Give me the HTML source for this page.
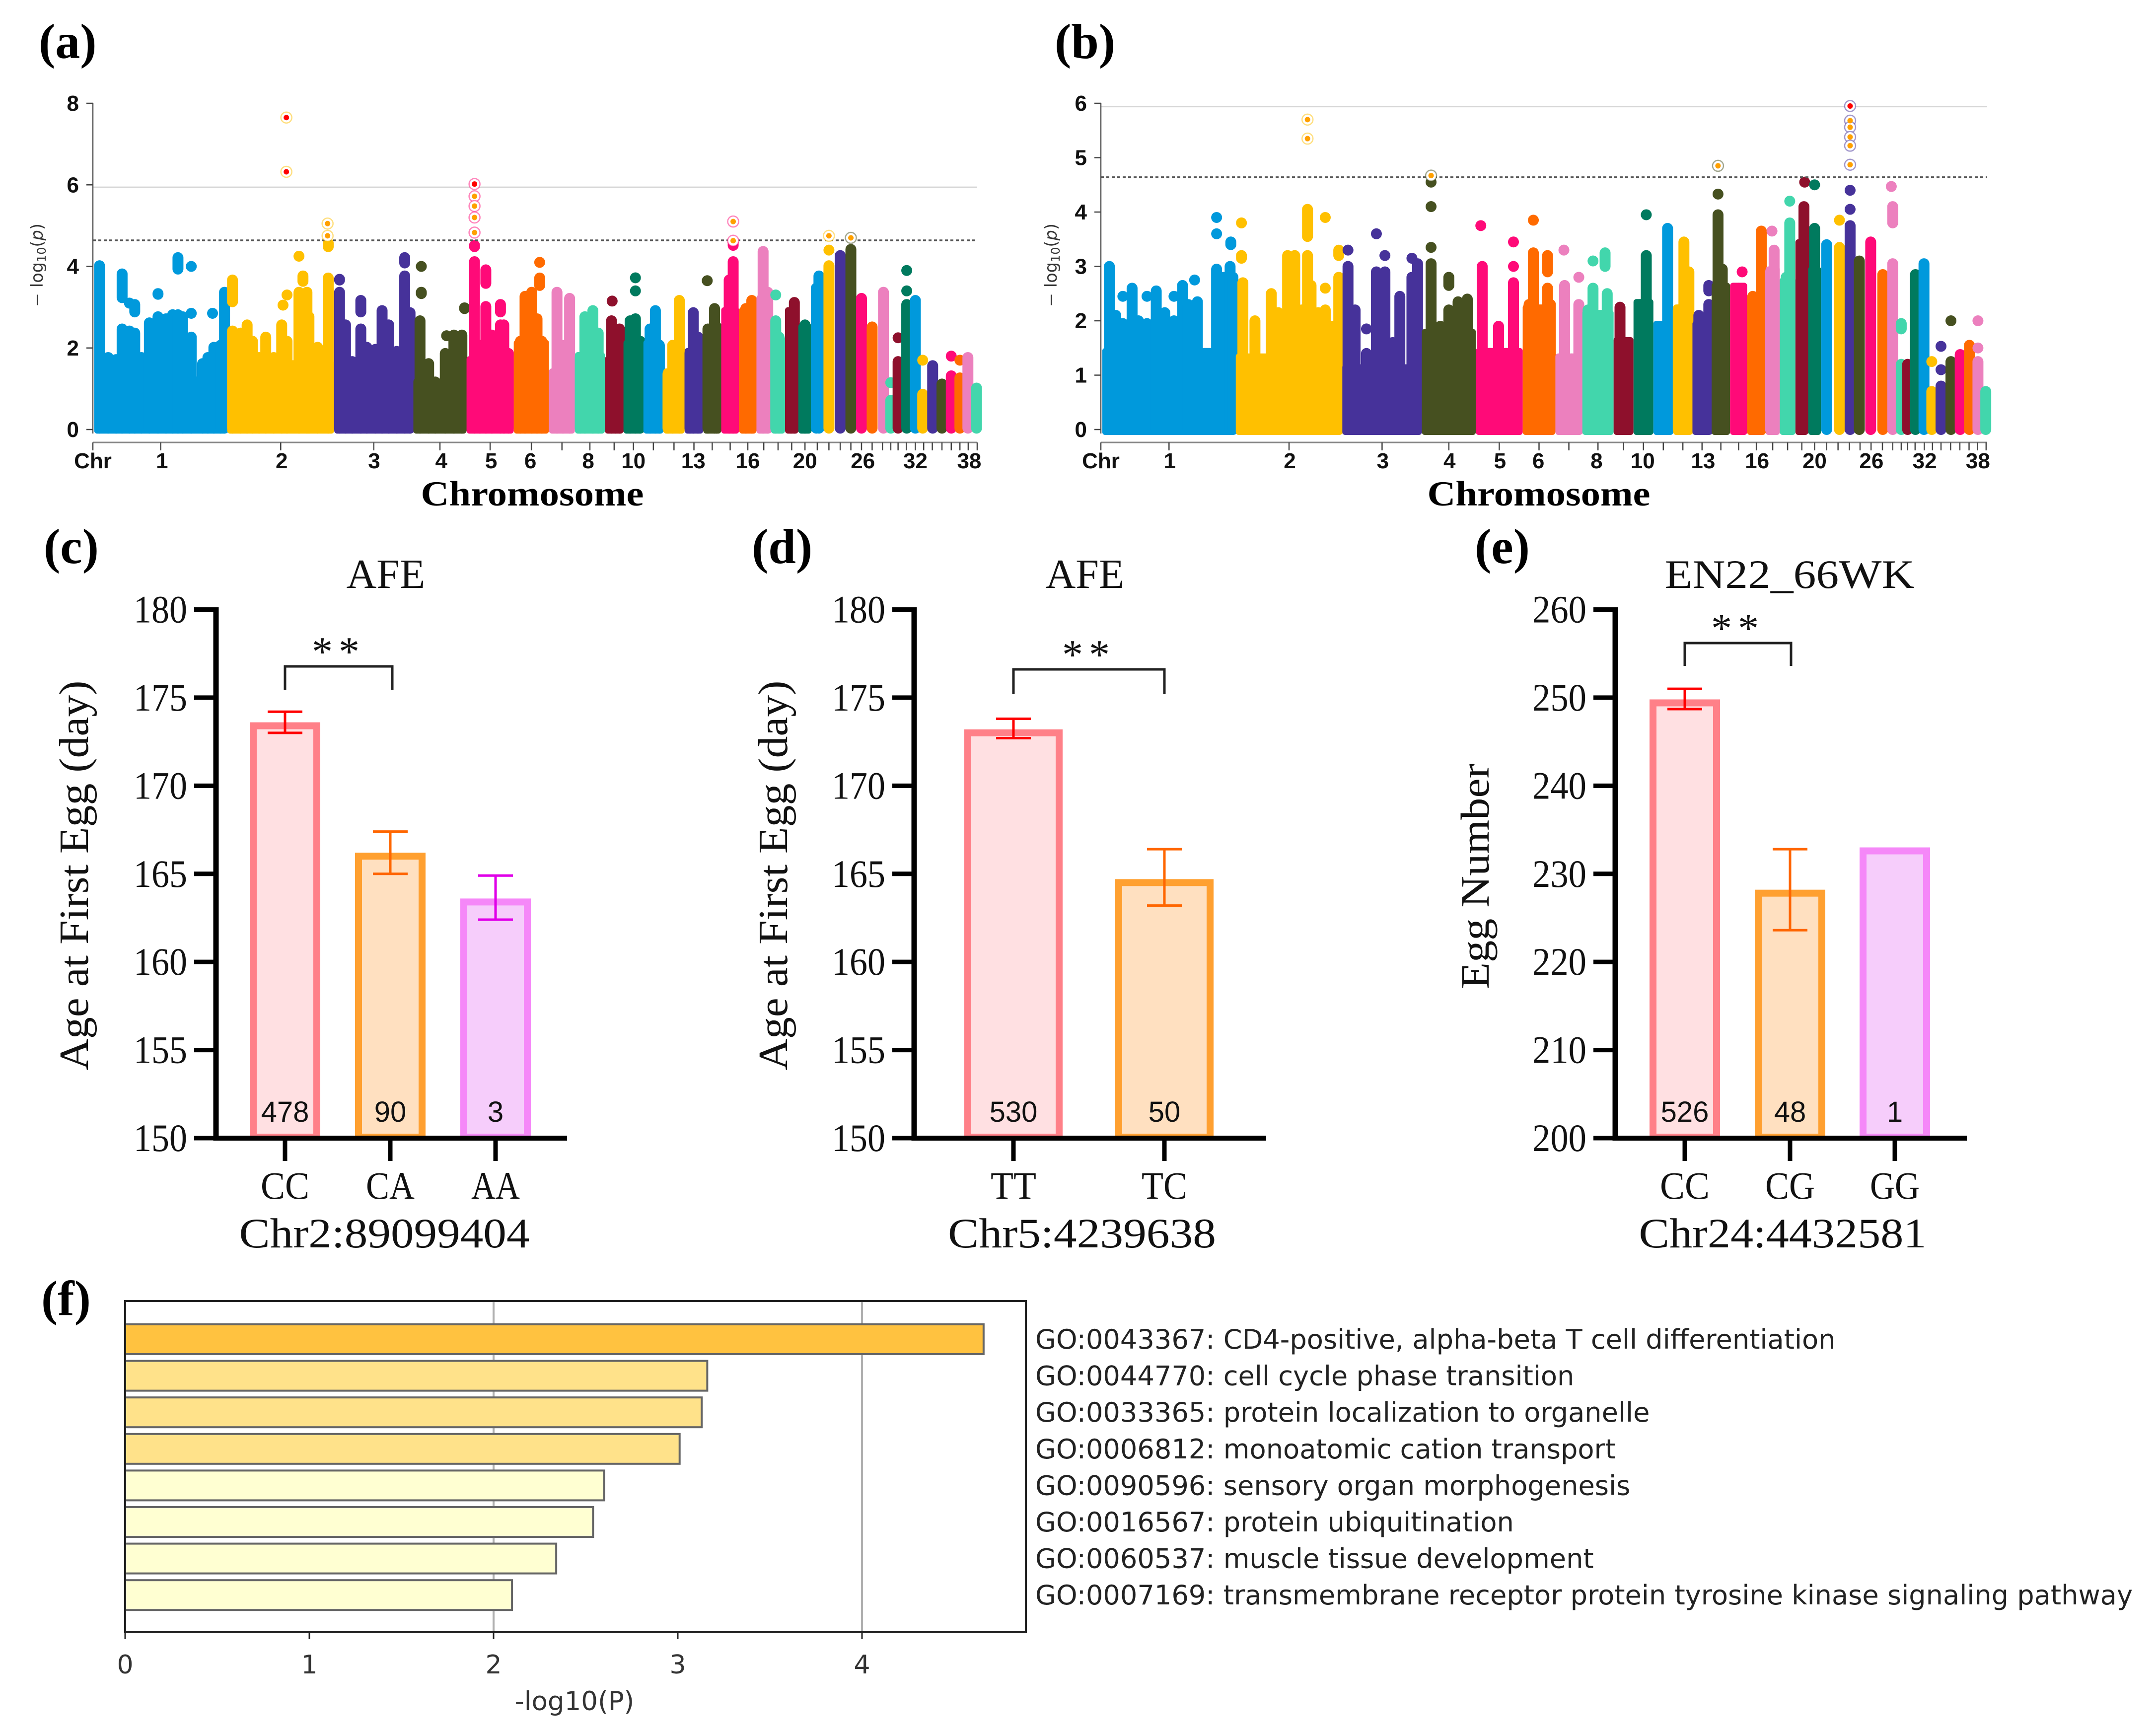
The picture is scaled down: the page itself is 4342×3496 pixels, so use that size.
<!DOCTYPE html>
<html lang="en">
<head>
<meta charset="utf-8">
<title>GWAS Manhattan plots, genotype effects and GO enrichment</title>
<style>
html,body{margin:0;padding:0;background:#fff;}
svg{display:block;}
.serif{font-family:"Liberation Serif",serif;}
.sans{font-family:"Liberation Sans",sans-serif;}
.dejavu{font-family:"DejaVu Sans",sans-serif;}
</style>
</head>
<body>
<svg id="figure" xmlns="http://www.w3.org/2000/svg" width="4342" height="3496" viewBox="0 0 4342 3496">
  <rect width="4342" height="3496" fill="#fff"/>

  <g id="panelA"></g>
  <g id="panelB"></g>
  <g id="panelC"></g>
  <g id="panelD"></g>
  <g id="panelE"></g>
  <g id="panelF"></g>

  <g class="serif" font-weight="bold" font-size="100" fill="#000">
    <text x="78" y="117">(a)</text>
    <text x="2124" y="117">(b)</text>
    <text x="88" y="1134">(c)</text>
    <text x="1514" y="1134">(d)</text>
    <text x="2970" y="1134">(e)</text>
    <text x="83" y="2648">(f)</text>
  </g>

  <g class="serif" font-weight="bold" font-size="71" fill="#000" text-anchor="middle">
    <text x="1072" y="1018" textLength="449" lengthAdjust="spacingAndGlyphs">Chromosome</text>
    <text x="3099" y="1018" textLength="449" lengthAdjust="spacingAndGlyphs">Chromosome</text>
  </g>
  <g class="dejavu" font-size="34" fill="#333" text-anchor="middle">
    <text transform="translate(86,534) rotate(-90)" textLength="168" lengthAdjust="spacingAndGlyphs">− log<tspan font-size="24" dy="6">10</tspan><tspan dy="-6">(</tspan><tspan font-style="italic">p</tspan>)</text>
    <text transform="translate(2128,534) rotate(-90)" textLength="168" lengthAdjust="spacingAndGlyphs">− log<tspan font-size="24" dy="6">10</tspan><tspan dy="-6">(</tspan><tspan font-style="italic">p</tspan>)</text>
  </g>

  <g class="serif" fill="#111" text-anchor="middle">
    <text x="777" y="1184" font-size="84">AFE</text>
    <text x="2185" y="1184" font-size="84">AFE</text>
    <text x="3604" y="1184" font-size="82" textLength="503" lengthAdjust="spacingAndGlyphs">EN22_66WK</text>
    <text transform="translate(177,1763) rotate(-90)" font-size="84" textLength="785" lengthAdjust="spacingAndGlyphs">Age at First Egg (day)</text>
    <text transform="translate(1585,1763) rotate(-90)" font-size="84" textLength="785" lengthAdjust="spacingAndGlyphs">Age at First Egg (day)</text>
    <text transform="translate(2998,1765) rotate(-90)" font-size="82" textLength="454" lengthAdjust="spacingAndGlyphs">Egg Number</text>
    <text x="774" y="2512" font-size="85" textLength="585" lengthAdjust="spacingAndGlyphs">Chr2:89099404</text>
    <text x="2179" y="2512" font-size="85" textLength="540" lengthAdjust="spacingAndGlyphs">Chr5:4239638</text>
    <text x="3590" y="2512" font-size="85" textLength="579" lengthAdjust="spacingAndGlyphs">Chr24:4432581</text>
  </g>
  <text class="dejavu" x="1157" y="3444" font-size="53" fill="#333" text-anchor="middle">-log10(P)</text>

<script>
// ---------- Panel (a) data: genome position (plot units), -log10(p) ----------
const chrBoundsA = [142,342,503,622,702,773,826,865,910,938,968,998,1030,1058,1085,1112,1138,1160,1181,1201,1221,1238,1256,1272,1288,1304,1320,1335,1345,1357,1370,1384,1395,1410,1424,1438,1450,1463,1477];
const chrFloorsA = [1.3,1.7,1.3,1.25,1.8,2.2,1.5,1.9,1.8,2.2,2.2,1.5,2.0,2.4,3.0,3.0,3.3,2.3,3.0,2.6,0,0,0,0,0,0,0,0,0,0,0,0,0,0,0,0,0,0];
const stemsA = [[150,4.15],[163,1.9],[175,1.85],[184,2.6],[195,2.55],[203,2.5],[213,1.9],[225,2.75],[238,2.9],[250,2.85],[260,2.95],[268,2.95],[275,2.9],[288,2.4],[305,1.75],[313,1.9],[322,2.15],[332,2.2],[338,3.5],
[350,2.55],[362,2.5],[372,2.7],[380,2.3],[390,1.9],[400,2.4],[412,1.9],[424,2.7],[432,2.3],[450,3.5],[462,3.5],[465,2.9],[478,2.15],[494,3.85],
[511,3.5],[520,2.7],[530,1.8],[543,2.6],[552,2.15],[565,2.1],[575,3.05],[585,2.7],[597,2.05],[609,3.9],[617,3.0],
[632,2.8],[645,1.75],[655,1.3],[670,2.0],[683,2.45],[695,2.45],
[714,4.25],[722,2.2],[731,3.15],[740,2.45],[753,2.7],[758,2.7],[765,2.0],
[783,2.3],[790,3.4],[800,3.5],[808,2.85],[815,2.3],
[838,3.5],[847,2.2],[857,3.35],
[873,1.9],[880,2.9],[892,3.05],[900,2.5],
[920,2.8],[926,1.8],[932,2.6],
[948,2.8],[956,2.85],[963,2.3],
[978,2.6],[986,3.05],[992,2.2],
[1005,1.5],[1012,2.2],[1022,3.3],
[1038,2.0],[1043,3.0],[1050,2.4],
[1065,2.6],[1075,3.1],[1078,2.65],
[1097,3.8],[1103,4.25],
[1122,3.1],[1131,3.3],
[1148,4.5],[1155,3.5],
[1167,2.8],[1172,2.4],
[1190,2.6],[1195,3.25],
[1211,2.7],[1228,3.6],[1232,3.9],[1247,4.15],[1264,4.4],[1280,4.55],[1296,3.35],[1312,2.65],[1329,3.5],[1340,0.85],[1351,1.8],[1364,3.2],[1377,3.3],[1388,1.0],[1403,1.7],[1417,1.25],[1431,1.45],[1444,1.4],[1456,1.9],[1469,1.15]];
const floatsA = [[184,3.1,3.95],[203,2.75,3.2],[268,3.8,4.35],[238,3.2,3.45],[350,3.0,3.8],[456,3.5,3.9],[494,4.35,4.7],[511,3.55,3.8],[543,2.75,3.3],[609,3.95,4.35],[634,3.2,3.5],[699,2.85,3.1],[714,4.35,4.65],[731,3.45,4.05],[753,2.75,3.2],[812,3.4,3.85],[1103,4.45,4.65]];
const dotsA = [[195,3.1],[288,4.0],[288,2.85],[320,2.85],[426,3.05],[432,3.3],[450,4.25],[634,4.0],[672,2.3],[812,4.1],[921,3.15],[956,3.4],[956,3.72],[1064,3.65],[1167,3.3],[1247,4.4],[1340,1.15],[1351,2.25],[1364,3.4],[1364,3.9],[1388,1.7],[1431,1.8],[1444,1.7]];
const hitsA = [[431,7.65,'top'],[431,6.32,'top'],[493,5.05,'sig'],[493,4.75,'sig'],[714,6.02,'top'],[714,5.72,'sig'],[714,5.48,'sig'],[714,5.2,'sig'],[714,4.83,'sig'],[1103,5.1,'sig'],[1103,4.63,'sig'],[1247,4.75,'sig'],[1280,4.7,'sig']];
const tickLabelsA = ['Chr','1','2','3','4','5','6','8','10','13','16','20','26','32','38'];
const tickLabelPosA = [140,244,424,563,664,739,798,885,953,1043,1125,1211,1298,1377,1458];
const yTicksA = [0,2,4,6,8];

// ---------- Panel (b) data ----------
const chrBoundsB = [84,272,422,534,610,676,722,760,804,832,860,888,915,942,968,992,1018,1038,1060,1078,1096,1112,1128,1144,1158,1175,1190,1204,1214,1222,1235,1248,1258,1272,1285,1298,1311,1322,1335];
const chrFloorsB = [1.5,1.4,1.2,1.85,1.5,2.3,1.4,2.2,1.7,2.4,2.0,2.3,2.0,2.7,2.7,2.5,3.0,2.8,3.5,3.0,0,0,0,0,0,0,0,0,0,0,0,0,0,0,0,0,0,0];
const stemsB = [[94,3.1],[103,2.2],[113,2.05],[126,2.7],[135,2.1],[147,2.05],[160,2.65],[172,2.25],[185,2.1],[197,2.75],[205,2.4],[218,2.45],[235,1.3],[245,3.05],[255,2.9],[264,3.1],[268,2.9],
[282,2.8],[299,2.1],[322,2.6],[332,2.25],[345,3.3],[355,3.3],[365,2.3],[373,3.3],[378,2.75],[388,2.25],[398,2.3],[408,2.0],[417,2.9],
[430,3.1],[440,2.3],[456,1.5],[470,3.0],[482,3.0],[493,1.7],[503,2.55],[520,2.9],[528,3.15],
[547,3.15],[560,2.0],[572,2.3],[585,2.45],[598,2.5],
[619,3.1],[630,1.5],[642,2.0],[663,2.8],
[685,2.4],[691,3.35],[711,2.7],[715,2.4],
[735,2.75],[745,1.4],[755,2.4],
[768,2.3],[775,2.7],[795,2.6],
[813,2.35],[822,1.7],
[842,2.4],[850,3.3],
[870,2.0],[880,3.8],
[895,2.3],[903,3.55],[910,3.0],
[924,2.2],[938,2.4],
[951,4.05],[957,3.05],
[980,2.7],
[1000,2.55],[1012,3.75],
[1025,3.0],[1030,3.4],
[1047,2.9],[1052,3.9],
[1072,4.2],[1087,3.8],[1104,3.5],[1122,3.45],[1137,3.85],[1150,3.2],[1166,3.55],[1183,2.95],[1197,3.15],[1209,1.3],[1218,1.3],[1229,2.95],[1241,3.15],[1252,0.8],[1265,0.9],[1279,1.35],[1292,1.48],[1305,1.65],[1317,1.35],[1328,0.8]];
const floatsB = [[265,3.3,3.55],[280,3.05,3.3],[938,2.45,2.75],[711,2.8,3.3],[1197,3.7,4.2],[1209,1.75,2.05],[792,2.9,3.35],[572,2.55,2.9],[373,3.45,4.15],[417,3.1,3.4]];
const dotsB = [[113,2.45],[147,2.45],[185,2.45],[214,2.75],[245,3.9],[245,3.6],[280,3.8],[398,3.9],[398,2.6],[430,3.3],[456,1.85],[470,3.6],[482,3.2],[520,3.15],[547,3.35],[547,4.1],[547,4.55],[617,3.75],[663,3.0],[663,3.45],[691,3.85],[734,3.3],[755,2.8],[775,3.1],[850,3.95],[985,2.9],[1027,3.65],[1052,4.2],[1073,4.55],[1087,4.5],[1122,3.85],[1137,4.05],[1137,4.4],[951,4.33],[1195,4.47],[1252,1.25],[1265,1.1],[1265,1.53],[1279,2.0],[1317,1.5],[1317,2.0]];
const hitsB = [[373,5.7,'sig'],[373,5.35,'sig'],[547,4.67,'sig'],[951,4.85,'sig'],[1137,5.95,'top'],[1137,5.68,'sig'],[1137,5.56,'sig'],[1137,5.38,'sig'],[1137,5.22,'sig'],[1137,4.87,'sig']];
const tickLabelsB = ['Chr','1','2','3','4','5','6','8','10','13','16','20','26','32','38'];
const tickLabelPosB = [82,179,348,479,573,644,698,780,845,930,1006,1087,1167,1242,1317];
const yTicksB = [0,1,2,3,4,5,6];

// Chromosome palette (cycles every 10)
const chrPalette = ['#0099DC','#FFC000','#46329A','#465020','#FF0A78','#FF6A00','#EC80BE','#42D6AC','#8E102C','#007A5E'];

// ---------- Panel (c) ----------
const genotypesC = ['CC','CA','AA'];
const meansC = [173.6,166.2,163.6];
const errHighC = [174.2,167.4,164.9];
const errLowC = [173.0,165.0,162.4];
const countsC = ['478','90','3'];
const yTicksC = [150,155,160,165,170,175,180];

// ---------- Panel (d) ----------
const genotypesD = ['TT','TC'];
const meansD = [173.2,164.7];
const errHighD = [173.8,166.4];
const errLowD = [172.7,163.2];
const countsD = ['530','50'];
const yTicksD = [150,155,160,165,170,175,180];

// ---------- Panel (e) ----------
const genotypesE = ['CC','CG','GG'];
const meansE = [249.8,228.2,233];
const errHighE = [251,232.8,null];
const errLowE = [248.7,223.6,null];
const countsE = ['526','48','1'];
const yTicksE = [200,210,220,230,240,250,260];

// ---------- Panel (f) ----------
const goTerms = ['GO:0043367: CD4-positive, alpha-beta T cell differentiation','GO:0044770: cell cycle phase transition','GO:0033365: protein localization to organelle','GO:0006812: monoatomic cation transport','GO:0090596: sensory organ morphogenesis','GO:0016567: protein ubiquitination','GO:0060537: muscle tissue development','GO:0007169: transmembrane receptor protein tyrosine kinase signaling pathway'];
const goValues = [4.66,3.16,3.13,3.01,2.60,2.54,2.34,2.10];
const goXTicks = [0,1,2,3,4];
const goGridlines = [2,4];

const NS = 'http://www.w3.org/2000/svg';
function mk(parent, tag, attrs, txt) {
  const el = document.createElementNS(NS, tag);
  for (const k in attrs) el.setAttribute(k, attrs[k]);
  if (txt !== undefined) el.textContent = txt;
  parent.appendChild(el);
  return el;
}

function drawManhattan(root, o) {
  const xs = p => o.left + (p - o.d0) * (o.right - o.left) / (o.d1 - o.d0);
  const ys = v => 865 - v * (865 - 208) / o.ymax;
  const colorOf = i => chrPalette[i % 10];
  const chrOf = p => {
    for (let i = 0; i < o.bounds.length - 1; i++) if (p < o.bounds[i + 1]) return i;
    return o.bounds.length - 2;
  };
  const R = 11;
  const base = ys(-0.1);
  for (let c = 0; c < o.bounds.length - 1; c++) {
    const g = mk(root, 'g', {fill: colorOf(c), stroke: colorOf(c)});
    
    
    if (o.floors[c] > 0) {
      const r = mk(g, 'rect', {x: xs(o.bounds[c]), y: ys(o.floors[c]), width: xs(o.bounds[c + 1]) - xs(o.bounds[c]), height: base - ys(o.floors[c]), stroke: 'none', rx: 6});
      
      
    }
    o.stems.filter(s => chrOf(s[0]) === c).forEach(s => {
      const l = mk(g, 'line', {x1: xs(s[0]), x2: xs(s[0]), y1: ys(s[1]) + R, y2: base - R, 'stroke-width': 2 * R, 'stroke-linecap': 'round'});
      
      
    });
    o.floats.filter(s => chrOf(s[0]) === c).forEach(s => {
      const l = mk(g, 'line', {x1: xs(s[0]), x2: xs(s[0]), y1: ys(s[2]) + R, y2: ys(s[1]) - R, 'stroke-width': 2 * R, 'stroke-linecap': 'round'});
      
      
    });
    o.dots.filter(s => chrOf(s[0]) === c).forEach(s => {
      const d = mk(g, 'circle', {cx: xs(s[0]), cy: ys(s[1]), r: R, stroke: 'none'});
      
      
    });
  }
  // significance lines
  const gl = mk(root, 'line', {x1: o.left, x2: o.right, y1: ys(5.94), y2: ys(5.94), stroke: '#d6d6d6', 'stroke-width': 3});
  
  
  const sl = mk(root, 'line', {x1: o.left, x2: o.right, y1: ys(4.64), y2: ys(4.64), stroke: '#555', 'stroke-width': 3.5, 'stroke-dasharray': '6 5'});
  
  
  // highlighted SNPs: rings first, then dots on top
  o.hits.forEach(h => {
    const col = colorOf(chrOf(h[0]));
    const ring = mk(root, 'circle', {cx: xs(h[0]), cy: ys(h[1]), r: 11, fill: '#fff', stroke: col, 'stroke-width': 2.5, 'stroke-opacity': 0.5});
    
    
  });
  o.hits.forEach(h => {
    const dot = mk(root, 'circle', {cx: xs(h[0]), cy: ys(h[1]), r: 5.5, fill: h[2] === 'top' ? '#FF0000' : '#FFA000'});
    
    
  });
  // y axis
  const ya = mk(root, 'line', {x1: o.left, x2: o.left, y1: 207, y2: 873, stroke: '#555', 'stroke-width': 2.5});
  
  
  o.yTicks.forEach(v => {
    const t = mk(root, 'line', {x1: o.left - 13, x2: o.left, y1: ys(v), y2: ys(v), stroke: '#444', 'stroke-width': 2.5});
    
    
    const l = mk(root, 'text', {x: o.left - 28, y: ys(v) + 15, 'font-size': 44, 'font-weight': 'bold', 'font-family': '"Liberation Sans",sans-serif', 'text-anchor': 'end', fill: '#111'}, String(v));
    
    
  });
  // x axis
  const xa = mk(root, 'line', {x1: o.left, x2: o.right, y1: 891, y2: 891, stroke: '#888', 'stroke-width': 3});
  
  
  const drawTick = p => {
    const t = mk(root, 'line', {x1: xs(p), x2: xs(p), y1: 891, y2: 907, stroke: '#444', 'stroke-width': 2.5});
    
    
  };
  drawTick(o.d0);
  for (let c = 0; c < o.bounds.length - 1; c++) drawTick((o.bounds[c] + o.bounds[c + 1]) / 2);
  o.tickLabels.forEach((s, i) => {
    const l = mk(root, 'text', {x: xs(o.tickLabelPos[i]), y: 943, 'font-size': 44, 'font-weight': 'bold', 'font-family': '"Liberation Sans",sans-serif', 'text-anchor': 'middle', fill: '#111'}, s);
    
    
  });
}

const barStrokes = ['#FF8088','#FFA030','#F588F8'];
const barFills = ['#FFE0E2','#FFE0C0','#F6CDFB'];
const errColors = ['#FF0000','#FF6600','#E000E8'];

function drawBars(root, o) {
  const y0 = 2292, y1 = 1227.5;
  const ymin = o.yTicks[0], ymax = o.yTicks[o.yTicks.length - 1];
  const ys = v => y0 - (v - ymin) * (y0 - y1) / (ymax - ymin);
  const SW = 14;
  o.means.forEach((m, i) => {
    const cx = o.centers[i];
    const b = mk(root, 'rect', {x: cx - o.barW / 2 + SW / 2, y: ys(m) + SW / 2, width: o.barW - SW, height: y0 - 2 - ys(m) - SW / 2, fill: barFills[i], stroke: barStrokes[i], 'stroke-width': SW});
    
    
    const n = mk(root, 'text', {x: cx, y: 2259, 'font-size': 58, 'font-family': '"Liberation Sans",sans-serif', 'text-anchor': 'middle', fill: '#111'}, o.counts[i]);
    
    
    if (o.errHigh[i] !== null) {
      const e = mk(root, 'path', {d: 'M' + (cx - 35) + ' ' + ys(o.errHigh[i]) + 'H' + (cx + 35) + 'M' + cx + ' ' + ys(o.errHigh[i]) + 'V' + ys(o.errLow[i]) + 'M' + (cx - 35) + ' ' + ys(o.errLow[i]) + 'H' + (cx + 35), fill: 'none', stroke: errColors[i], 'stroke-width': 5});
      
      
    }
    const t = mk(root, 'line', {x1: cx, x2: cx, y1: y0, y2: 2338, stroke: '#000', 'stroke-width': 9});
    
    
    const l = mk(root, 'text', {x: cx, y: 2414, 'font-size': 78, 'font-family': '"Liberation Serif",serif', 'text-anchor': 'middle', fill: '#111', textLength: o.catW, lengthAdjust: 'spacingAndGlyphs'}, o.genotypes[i]);
    
    
  });
  const ya = mk(root, 'line', {x1: o.axisX, x2: o.axisX, y1: y1 - 4.5, y2: y0 + 5, stroke: '#000', 'stroke-width': 11});
  
  
  const xa = mk(root, 'line', {x1: o.axisX, x2: o.axisEnd, y1: y0, y2: y0, stroke: '#000', 'stroke-width': 10});
  
  
  o.yTicks.forEach(v => {
    const t = mk(root, 'line', {x1: o.axisX - 44, x2: o.axisX, y1: ys(v), y2: ys(v), stroke: '#000', 'stroke-width': 9});
    
    
    const l = mk(root, 'text', {x: o.axisX - 58, y: ys(v) + 26, 'font-size': 78, 'font-family': '"Liberation Serif",serif', 'text-anchor': 'end', fill: '#111', textLength: o.tickW, lengthAdjust: 'spacingAndGlyphs'}, String(v));
    
    
  });
  const br = mk(root, 'path', {d: 'M' + o.bracket[0] + ' ' + o.bracket[3] + 'V' + o.bracket[2] + 'H' + o.bracket[1] + 'V' + o.bracket[3], fill: 'none', stroke: '#222', 'stroke-width': 5});
  
  
  const st = mk(root, 'text', {x: (o.bracket[0] + o.bracket[1]) / 2, y: o.bracket[2] - 2, 'font-size': 84, 'font-family': '"Liberation Serif",serif', 'text-anchor': 'middle', 'letter-spacing': 12, fill: '#111'}, '**');
  
  
}

function drawGO(root) {
  const L = 252, R = 2066, T = 2620, B = 3287;
  const xs = v => L + v * 371;
  goGridlines.forEach(v => {
    const g = mk(root, 'line', {x1: xs(v), x2: xs(v), y1: T, y2: B, stroke: '#b0b0b0', 'stroke-width': 4});
    
    
  });
  goValues.forEach((v, i) => {
    const cy = 2697 + i * 73.6;
    const fill = v > 4 ? '#FFC240' : v >= 3 ? '#FFE28A' : '#FFFFD2';
    const b = mk(root, 'rect', {x: xs(0), y: cy - 30, width: xs(v) - xs(0), height: 60, fill: fill, stroke: '#666', 'stroke-width': 4});
    
    
    const t = mk(root, 'text', {x: 2085, y: cy + 19, 'font-size': 54.2, 'font-family': '"DejaVu Sans",sans-serif', fill: '#222'}, goTerms[i]);
    
    
  });
  const frame = mk(root, 'rect', {x: L, y: T, width: R - L, height: B - T, fill: 'none', stroke: '#222', 'stroke-width': 4});
  
  
  goXTicks.forEach(v => {
    const t = mk(root, 'line', {x1: xs(v), x2: xs(v), y1: B, y2: B + 14, stroke: '#222', 'stroke-width': 3});
    
    
    const l = mk(root, 'text', {x: xs(v), y: 3370, 'font-size': 52, 'font-family': '"DejaVu Sans",sans-serif', 'text-anchor': 'middle', fill: '#333'}, String(v));
    
    
  });
}

drawManhattan(document.getElementById('panelA'), {left: 187, right: 1968, d0: 140, d1: 1470, ymax: 8, bounds: chrBoundsA, floors: chrFloorsA, stems: stemsA, floats: floatsA, dots: dotsA, hits: hitsA, yTicks: yTicksA, tickLabels: tickLabelsA, tickLabelPos: tickLabelPosA});
drawManhattan(document.getElementById('panelB'), {left: 2217, right: 4002, d0: 82, d1: 1330, ymax: 6, bounds: chrBoundsB, floors: chrFloorsB, stems: stemsB, floats: floatsB, dots: dotsB, hits: hitsB, yTicks: yTicksB, tickLabels: tickLabelsB, tickLabelPos: tickLabelPosB});
drawBars(document.getElementById('panelC'), {genotypes: genotypesC, means: meansC, errHigh: errHighC, errLow: errLowC, counts: countsC, yTicks: yTicksC, centers: [574,786,998], barW: 142, axisX: 435, axisEnd: 1142, tickW: 108, catW: 98, bracket: [574,790,1342,1389]});
drawBars(document.getElementById('panelD'), {genotypes: genotypesD, means: meansD, errHigh: errHighD, errLow: errLowD, counts: countsD, yTicks: yTicksD, centers: [2041,2345], barW: 198, axisX: 1841, axisEnd: 2550, tickW: 108, catW: 92, bracket: [2041,2345,1348,1398]});
drawBars(document.getElementById('panelE'), {genotypes: genotypesE, means: meansE, errHigh: errHighE, errLow: errLowE, counts: countsE, yTicks: yTicksE, centers: [3393,3605,3816], barW: 142, axisX: 3253, axisEnd: 3961, tickW: 109, catW: 100, bracket: [3393,3607,1295,1341]});
drawGO(document.getElementById('panelF'));
</script>
</svg>
</body>
</html>
